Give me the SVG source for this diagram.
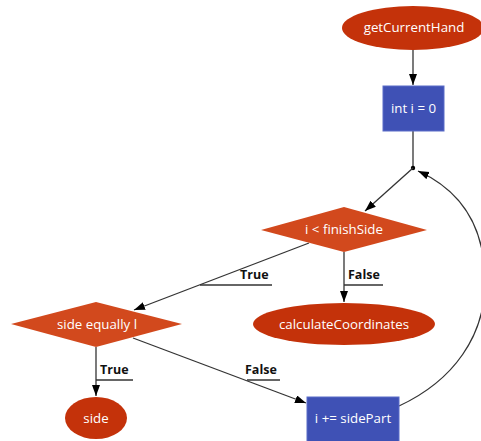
<svg xmlns="http://www.w3.org/2000/svg" width="481" height="441" viewBox="0 0 481 441">
<defs>
<marker id="ah" markerUnits="userSpaceOnUse" markerWidth="12" markerHeight="9" refX="11" refY="4" orient="auto">
<path d="M0,0 L11,4 L0,8 z" fill="#000"/>
</marker>
<style>
.ell{fill:#c4320a}
.dia{fill:#d2491d}
.box{fill:#3f51b5;stroke:#5b6cc8;stroke-width:1}
.nt{font-family:"Open Sans","Liberation Sans",sans-serif;font-size:13.3px;fill:#fff;text-anchor:middle;dominant-baseline:central}
.e{fill:none;stroke:#333;stroke-width:1.3}
.el{font-family:"Open Sans","Liberation Sans",sans-serif;font-size:12.5px;font-weight:bold;fill:#111}
.ul{stroke:#333;stroke-width:1.3}
</style>
</defs>
<rect width="481" height="441" fill="#fff"/>
<g id="connectors">
<path class="e" d="M413,50 L413,85" marker-end="url(#ah)"/>
<path class="e" d="M413,131 L413,168"/>
<circle cx="413" cy="168" r="2.2" fill="#000"/>
<path class="e" d="M413,168 L365,211" marker-end="url(#ah)"/>
<path class="e" d="M399,406 C455,380 484,335 485,285 C486,225 460,190 418,171" marker-end="url(#ah)"/>
<path class="e" d="M309,243 L134,310" marker-end="url(#ah)"/>
<path class="e" d="M344,252 L344,302" marker-end="url(#ah)"/>
<path class="e" d="M96,347 L96,396" marker-end="url(#ah)"/>
<path class="e" d="M133,338 L306,403" marker-end="url(#ah)"/>
<text class="el" x="240" y="279">True</text>
<line class="ul" x1="200" y1="285" x2="272" y2="285"/>
<text class="el" x="348" y="279">False</text>
<line class="ul" x1="344" y1="285" x2="383" y2="285"/>
<text class="el" x="100" y="374">True</text>
<line class="ul" x1="96" y1="380" x2="133" y2="380"/>
<text class="el" x="245" y="374">False</text>
<line class="ul" x1="247" y1="380" x2="280" y2="380"/>
</g>
<g id="getCurrentHand">
<ellipse class="ell" cx="413" cy="28" rx="71" ry="22"/>
<text class="nt" x="414" y="27">getCurrentHand</text>
</g>
<g id="init">
<rect class="box" x="383" y="86" width="61" height="45"/>
<text class="nt" x="413.5" y="108">int i = 0</text>
</g>
<g id="cond1">
<polygon class="dia" points="261,230 344,207 427,230 344,252"/>
<text class="nt" x="344" y="229">i &lt; finishSide</text>
</g>
<g id="calculateCoordinates">
<ellipse class="ell" cx="344" cy="324" rx="91" ry="21"/>
<text class="nt" x="344" y="324">calculateCoordinates</text>
</g>
<g id="cond2">
<polygon class="dia" points="11,324 96,302 182,324 96,347"/>
<text class="nt" x="97" y="324">side equally l</text>
</g>
<g id="side">
<ellipse class="ell" cx="96" cy="418" rx="31" ry="21"/>
<text class="nt" x="96" y="418">side</text>
</g>
<g id="increment">
<rect class="box" x="307" y="397" width="92" height="45"/>
<text class="nt" x="353" y="418">i += sidePart</text>
</g>
</svg>
